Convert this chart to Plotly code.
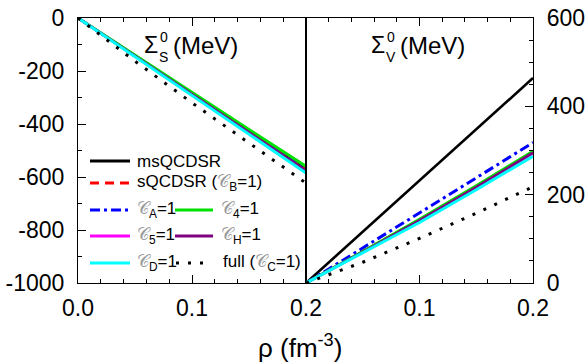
import plotly.graph_objects as go

# density values (fm^-3)
rho = [0.0, 0.05, 0.1, 0.15, 0.2]

# Scalar self-energy Sigma_S^0 (MeV)
S_ms    = [0, -143, -286, -428, -571]
S_sB    = [0, -142, -284, -426, -568]
S_A     = [0, -143, -287, -430, -573]
S_4     = [0, -141, -281, -421, -560]
S_5     = [0, -145, -291, -435, -579]
S_H     = [0, -144, -289, -432, -576]
S_D     = [0, -146, -293, -439, -585]
S_full  = [0, -163, -320, -473, -623]

# Vector self-energy Sigma_V^0 (MeV)
V_ms    = [0, 116, 232, 348, 464]
V_sB    = [0, 71, 143, 219, 296]
V_A     = [0, 79, 159, 238, 318]
V_4     = [0, 71, 144, 220, 298]
V_5     = [0, 69, 140, 215, 293]
V_H     = [0, 70, 142, 217, 295]
V_D     = [0, 68, 137, 211, 287]
V_full  = [0, 47, 101, 158, 218]

x_ticks_left = ["0.0", "0.1", "0.2"]
x_ticks_right = ["", "0.1", "0.2"]
y_ticks_left = ["-1000", "-800", "-600", "-400", "-200", "0"]
y_ticks_right = ["0", "200", "400", "600"]

C = "<span style='color:#9a9a9a'>𝒞</span>"
names = ["msQCDSR", f"sQCDSR ({C}<sub>B</sub>=1)", f"{C}<sub>A</sub>=1", f"{C}<sub>4</sub>=1",
         f"{C}<sub>5</sub>=1", f"{C}<sub>H</sub>=1", f"{C}<sub>D</sub>=1", f"full ({C}<sub>C</sub>=1)"]
colors = ["black", "#ff0000", "#0000ff", "#00e000", "#ff00ff", "#800080", "#00ffff", "black"]
dashes = ["solid", "9px,6px", "10px,4px,3px,4px", "solid", "solid", "solid", "solid", "3px,9px"]
widths = [2.6, 2.6, 3, 3, 2.6, 2.6, 3, 3]

S_all = [S_ms, S_sB, S_A, S_4, S_5, S_H, S_D, S_full]
V_all = [V_ms, V_sB, V_A, V_4, V_5, V_H, V_D, V_full]

fig = go.Figure()
for i in range(8):
    fig.add_trace(go.Scatter(x=rho, y=S_all[i], mode="lines", xaxis="x", yaxis="y",
                             line=dict(color=colors[i], dash=dashes[i], width=widths[i]),
                             showlegend=False, hoverinfo="skip"))
for i in range(8):
    fig.add_trace(go.Scatter(x=rho, y=V_all[i], mode="lines", xaxis="x2", yaxis="y2",
                             line=dict(color=colors[i], dash=dashes[i], width=widths[i]),
                             showlegend=False, hoverinfo="skip"))

FONT = "Liberation Sans, Arial, sans-serif"
L, R, T, B = 78, 533, 18, 283
W, H = 585, 362
split = 306
dsplit = (split - L) / (R - L)

def px(x):
    return (x - L) / (R - L)

def py(y):
    return (B - y) / (B - T)

axis_common = dict(showgrid=False, zeroline=False, showline=True, linecolor="black", linewidth=1.2,
                   ticks="inside", tickcolor="black", ticklen=8, tickwidth=1.2, automargin=False,
                   tickfont=dict(family=FONT, size=23, color="black"))

fig.update_layout(
    width=W, height=H, margin=dict(l=L, r=W - R, t=T, b=H - B),
    paper_bgcolor="white", plot_bgcolor="white",
    xaxis=dict(domain=[0, dsplit], range=[0, 0.2], anchor="y", mirror="ticks",
               tickvals=[0, 0.1, 0.2], ticktext=x_ticks_left, ticklabelstandoff=4,
               minor=dict(dtick=0.02, ticks="inside", ticklen=4, tickcolor="black", tickwidth=1.2),
               **axis_common),
    xaxis2=dict(domain=[dsplit, 1], range=[0, 0.2], anchor="y2", mirror="ticks",
                tickvals=[0, 0.1, 0.2], ticktext=x_ticks_right, ticklabelstandoff=4,
                minor=dict(dtick=0.02, ticks="inside", ticklen=4, tickcolor="black", tickwidth=1.2),
                **axis_common),
    yaxis=dict(domain=[0, 1], range=[-1000, 0], anchor="x", mirror=True,
               tickvals=[-1000, -800, -600, -400, -200, 0], ticktext=y_ticks_left, ticklabelstandoff=8,
               minor=dict(dtick=100, ticks="inside", ticklen=4, tickcolor="black", tickwidth=1.2),
               **axis_common),
    yaxis2=dict(domain=[0, 1], range=[0, 600], anchor="x2", side="right", mirror=True,
                tickvals=[0, 200, 400, 600], ticktext=y_ticks_right, ticklabelstandoff=8,
                minor=dict(dtick=50, ticks="inside", ticklen=4, tickcolor="black", tickwidth=1.2),
                **axis_common),
)

ann = []
def text(x, y, s, size, xanchor="left", yanchor="middle"):
    ann.append(dict(x=px(x), y=py(y), xref="paper", yref="paper", text=s, showarrow=False,
                    xanchor=xanchor, yanchor=yanchor,
                    font=dict(family=FONT, size=size, color="black")))

# panel titles
for (x0, sub) in [(142, "S"), (369, "V")]:
    text(x0, 45, "Σ", 23)
    text(x0 + 16, 37, "0", 14)
    text(x0 + 15, 57, sub, 14)
    text(x0 + 29, 46, "(MeV)", 24)

# x-axis title
text(300, 346, "ρ (fm<sup>-3</sup>)", 26, xanchor="center")

# legend (drawn manually)
shapes = []
rows = [161, 183, 210, 236, 263]
layout_leg = [
    (0, 90, 130, rows[0], 135),
    (1, 90, 130, rows[1], 135),
    (2, 90, 130, rows[2], 135),
    (3, 175, 213, rows[2], 219),
    (4, 90, 130, rows[3], 135),
    (5, 175, 213, rows[3], 219),
    (6, 90, 130, rows[4], 135),
    (7, 176, 211, rows[4], 221),
]
for (i, x0, x1, y, xt) in layout_leg:
    shapes.append(dict(type="line", xref="paper", yref="paper", x0=px(x0), x1=px(x1), y0=py(y), y1=py(y),
                       line=dict(color=colors[i], dash=dashes[i], width=3)))
    text(xt, y, names[i], 17)

fig.update_layout(annotations=ann, shapes=shapes)
fig.write_html("out.html", config={"displayModeBar": False},
               post_script="document.body.style.margin='0';document.body.style.overflow='hidden';")
